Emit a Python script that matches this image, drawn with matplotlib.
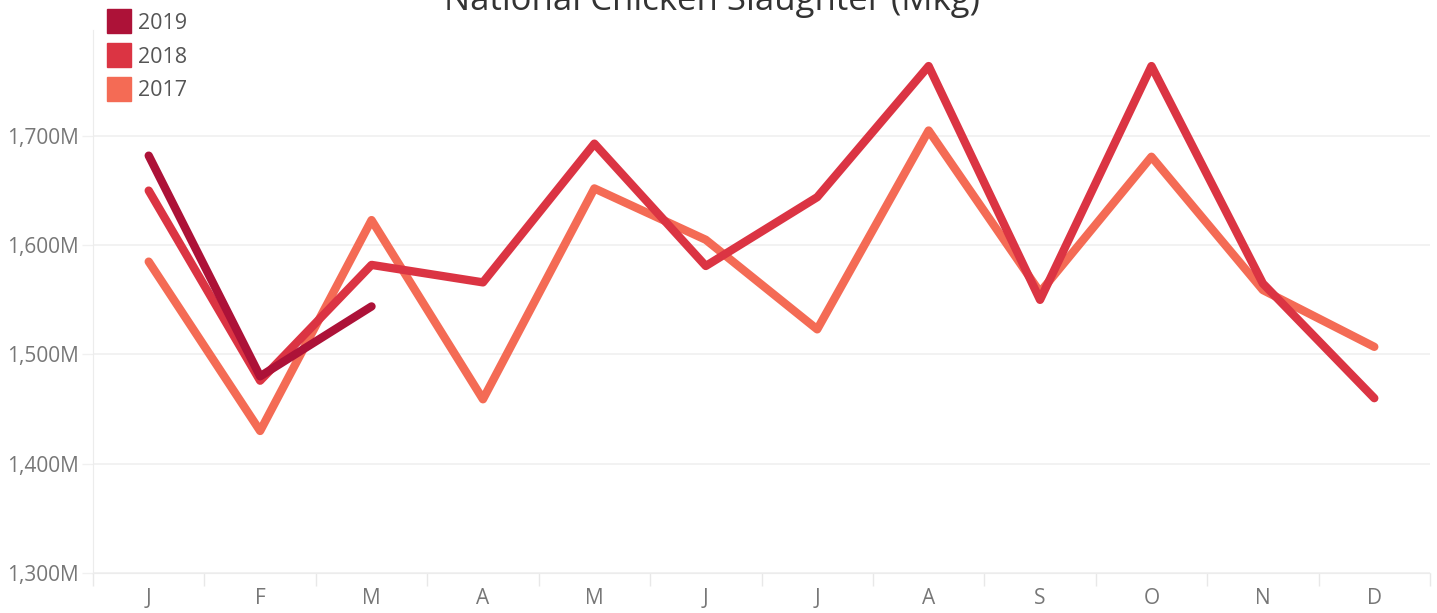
import numpy as np
import matplotlib.pyplot as plt
from matplotlib.lines import Line2D
from matplotlib.ticker import FuncFormatter, FixedLocator

plt.rcParams['font.family'] = ['Open Sans', 'DejaVu Sans']

# data (million kg)
months = ['J', 'F', 'M', 'A', 'M', 'J', 'J', 'A', 'S', 'O', 'N', 'D']
y2017 = [1585, 1430, 1623, 1459, 1652, 1605, 1523, 1705, 1557, 1681, 1559, 1507]
y2018 = [1650, 1476, 1582, 1566, 1693, 1581, 1644, 1764, 1550, 1764, 1565, 1460]
y2019 = [1682, 1480, 1544]
years = ['2019', '2018', '2017']
colors = {'2019': '#ad1238', '2018': '#db3443', '2017': '#f46b55'}
series = {'2019': y2019, '2018': y2018, '2017': y2017}

W, H = 1437, 613
fig = plt.figure(figsize=(W / 100, H / 100), dpi=100)
ax = fig.add_axes([93 / W, 1 - 573 / H, (1430 - 93) / W, (573 - 30) / H])

for yr in ['2017', '2018', '2019']:
    vals = series[yr]
    ax.plot(np.arange(len(vals)), vals, color=colors[yr], lw=6,
            solid_capstyle='round', solid_joinstyle='round')

ax.set_xlim(-0.5, 11.5)
ax.set_ylim(1300, 1797)

ax.yaxis.set_major_locator(FixedLocator([1300, 1400, 1500, 1600, 1700]))
ax.yaxis.set_major_formatter(FuncFormatter(lambda v, p: f'{int(v):,}M'))
ax.grid(axis='y', color='#f0f0f0', lw=1.2)
ax.set_axisbelow(True)

ax.set_xticks(np.arange(12))
ax.set_xticklabels(months)
ax.xaxis.set_minor_locator(FixedLocator(np.arange(-0.5, 12, 1)))
ax.tick_params(axis='x', which='major', length=0, pad=11, labelsize=15, labelcolor='#777777')
ax.tick_params(axis='x', which='minor', length=9, color='#e8e8e8', width=1)
ax.tick_params(axis='y', length=8, color='#f0f0f0', width=1, pad=2, labelsize=15,
               labelcolor='#777777')

for s in ['top', 'right']:
    ax.spines[s].set_visible(False)
ax.spines['left'].set_color('#ececec')
ax.spines['bottom'].set_color('#ececec')

handles = [Line2D([], [], marker='s', ms=17.3, ls='none', color=colors[y]) for y in years]
fig.legend(handles, years, loc='upper left', bbox_to_anchor=(96 / W, 1 - 4 / H),
           frameon=False, fontsize=15.5, labelcolor='#555555', handletextpad=0.25,
           labelspacing=0.6, borderaxespad=0, handlelength=1.3)

fig.text(712 / W, 1 - 10 / H, 'National Chicken Slaughter (Mkg)', ha='center',
         va='baseline', fontsize=25, color='#333333')

fig.savefig('out.png', dpi=100)
